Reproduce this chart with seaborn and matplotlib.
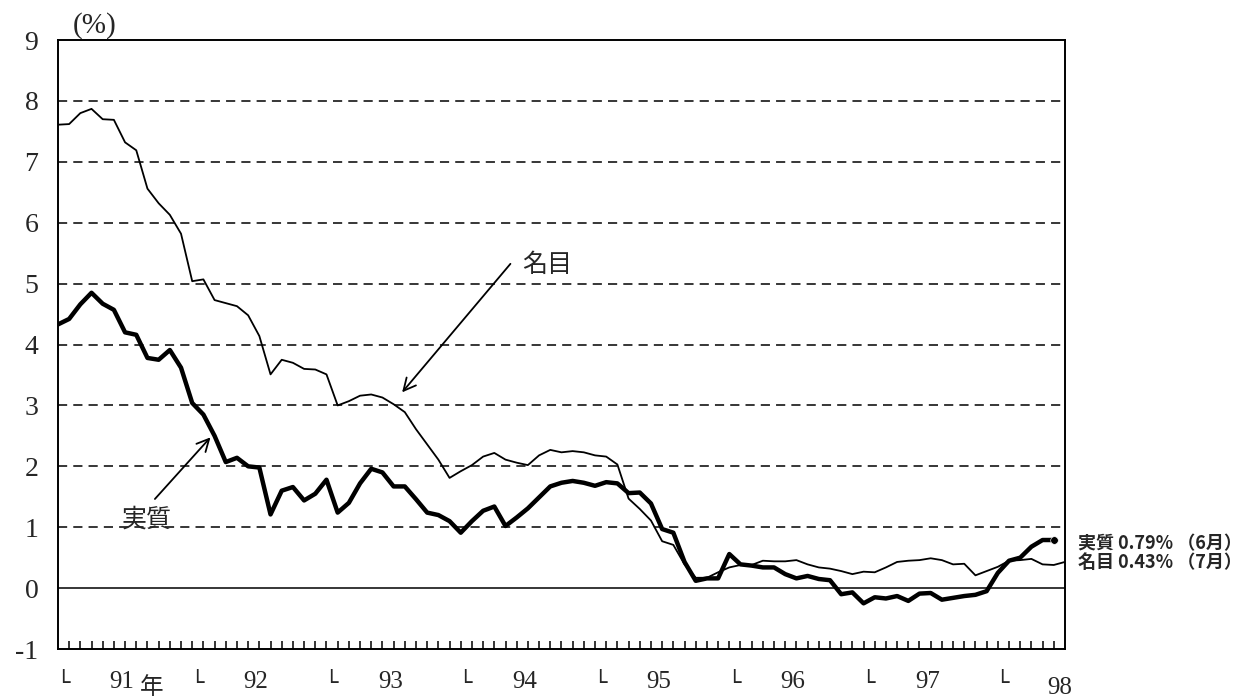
import numpy as np
import pandas as pd
import matplotlib
matplotlib.use("Agg")
import matplotlib.pyplot as plt
import seaborn as sns

# 月次 前年比 (%) 91年1月〜98年7月
nominal = [7.61, 7.62, 7.80, 7.87, 7.70, 7.69, 7.32, 7.19, 6.56, 6.32, 6.13, 5.82,
           5.04, 5.07, 4.73, 4.68, 4.63, 4.48, 4.14, 3.51, 3.75, 3.70, 3.60, 3.59,
           3.51, 3.00, 3.07, 3.16, 3.18, 3.13, 3.02, 2.89, 2.61, 2.36, 2.11, 1.81,
           1.92, 2.02, 2.16, 2.22, 2.11, 2.06, 2.02, 2.18, 2.27, 2.23, 2.25, 2.23,
           2.18, 2.16, 2.03, 1.47, 1.30, 1.11, 0.77, 0.71, 0.39, 0.17, 0.17, 0.26,
           0.34, 0.38, 0.38, 0.45, 0.44, 0.44, 0.46, 0.39, 0.34, 0.32, 0.28, 0.23,
           0.27, 0.26, 0.34, 0.43, 0.45, 0.46, 0.49, 0.46, 0.39, 0.40, 0.21, 0.28,
           0.35, 0.45, 0.46, 0.48, 0.39, 0.38, 0.43]
real = [4.33, 4.42, 4.66, 4.85, 4.67, 4.57, 4.20, 4.16, 3.78, 3.75, 3.91, 3.62,
        3.04, 2.85, 2.50, 2.07, 2.14, 2.00, 1.98, 1.21, 1.60, 1.66, 1.44, 1.55,
        1.78, 1.24, 1.40, 1.72, 1.96, 1.90, 1.67, 1.67, 1.46, 1.24, 1.20, 1.10,
        0.91, 1.10, 1.27, 1.34, 1.02, 1.16, 1.31, 1.49, 1.67, 1.73, 1.76, 1.73,
        1.68, 1.74, 1.72, 1.56, 1.57, 1.39, 0.97, 0.91, 0.43, 0.12, 0.16, 0.16,
        0.56, 0.39, 0.37, 0.34, 0.34, 0.23, 0.16, 0.20, 0.15, 0.13, -0.10, -0.07,
        -0.25, -0.15, -0.17, -0.13, -0.21, -0.09, -0.08, -0.19, -0.16, -0.13, -0.11, -0.05,
        0.25, 0.45, 0.50, 0.68, 0.79, 0.79]
year_labels = ["91", "92", "93", "94", "95", "96", "97"]
last_year_label = "98"
y_ticks = list(range(-1, 10))
note_real = "実質 0.79% （6月）"
note_nominal = "名目 0.43% （7月）"

months_n = np.arange(len(nominal))
months_r = np.arange(len(real))
df_n = pd.DataFrame({"month": months_n, "value": nominal})
df_r = pd.DataFrame({"month": months_r, "value": real})

sns.set_style("white")
plt.rcParams["font.family"] = ["Liberation Serif", "Noto Sans CJK JP"]
jp = ["Noto Sans CJK JP", "DejaVu Sans"]

fig = plt.figure(figsize=(12.46, 6.99), dpi=100)
ax = fig.add_axes([0.0465, 0.0715, 0.8082, 0.8712])

# 目盛線
for y in range(1, 9):
    ax.axhline(y, color="black", lw=1.1, ls=(0, (6, 4)), zorder=1)
ax.axhline(0, color="black", lw=1.1, zorder=1)

sns.lineplot(data=df_n, x="month", y="value", color="black", lw=1.3, ax=ax, zorder=3)
sns.lineplot(data=df_r, x="month", y="value", color="black", lw=3.2, ax=ax, zorder=4)
sns.scatterplot(x=[months_r[-1]], y=[real[-1]], color="black", s=30, ax=ax, zorder=5)

ax.set_xlim(0, len(nominal) - 1)
ax.set_ylim(-1, 9)
ax.set_yticks(y_ticks)
ax.set_yticklabels([str(v) for v in y_ticks])
ax.set_xticks(np.arange(1, len(nominal) - 1))
ax.tick_params(axis="x", which="both", bottom=True, direction="in", length=6, width=1.1,
               labelbottom=False, color="black")
ax.tick_params(axis="y", length=0, pad=14, labelsize=20)
ax.set_xlabel("")
ax.set_ylabel("")
for s in ax.spines.values():
    s.set_color("black")
    s.set_linewidth(1.4)

xt = ax.get_xaxis_transform()
for k in range(len(year_labels) + 1):
    ax.text(12 * k + 0.4, -0.057, "└", transform=xt, ha="center", va="center",
            fontsize=16, family=["DejaVu Sans"])
for k, lab in enumerate(year_labels):
    ax.text(12 * k + 5.7, -0.054, lab, transform=xt, ha="center", va="center", fontsize=18)
ax.text(7.3, -0.064, "年", transform=xt, ha="left", va="center", fontsize=17, family=jp)
ax.text(89.5, -0.064, last_year_label, transform=xt, ha="center", va="center", fontsize=18)

fig.text(0.0586, 0.964, "(%)", ha="left", va="center", fontsize=21)

# 系列名と矢印
ax.text(43.7, 5.31, "名目", ha="center", va="center", fontsize=18, family=jp)
ax.annotate("", xy=(30.6, 3.18), xytext=(40.6, 5.36),
            arrowprops=dict(arrowstyle="->", color="black", lw=1.3, mutation_scale=22))
ax.text(7.9, 1.13, "実質", ha="center", va="center", fontsize=18, family=jp)
ax.annotate("", xy=(13.8, 2.51), xytext=(8.5, 1.43),
            arrowprops=dict(arrowstyle="->", color="black", lw=1.3, mutation_scale=22))

fig.text(0.865, 0.222, note_real, ha="left", va="center", fontsize=13,
         fontweight="bold", family=jp)
fig.text(0.865, 0.196, note_nominal, ha="left", va="center", fontsize=13,
         fontweight="bold", family=jp)

fig.savefig("out.png", dpi=100, facecolor="white")
